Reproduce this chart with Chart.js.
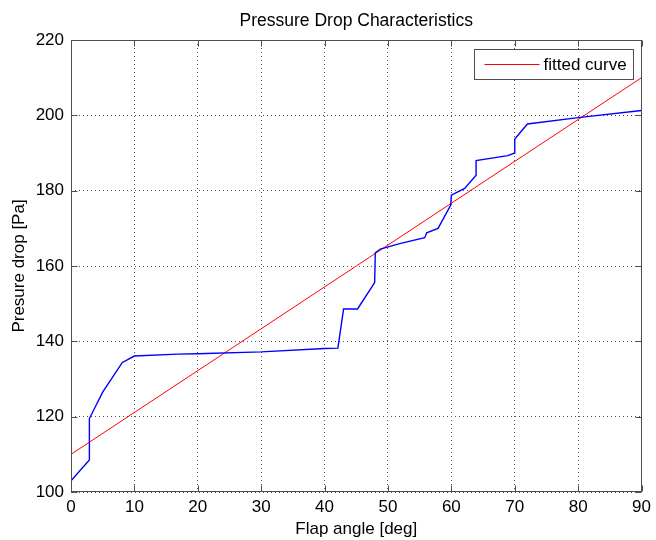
<!DOCTYPE html>
<html>
<head>
<meta charset="utf-8">
<script src="https://cdn.jsdelivr.net/npm/chart.js@4"></script>
<style>
  body { margin: 0; background: #fff; }
  #wrap { width: 656px; height: 540px; }
</style>
</head>
<body>
<div id="wrap"><canvas id="chart" width="656" height="540"></canvas></div>
<script>
// --- Data ---
const angleDeg = [0, 2.9, 2.9, 5, 8.1, 10, 16.8, 20, 30, 40, 42.1, 43, 45.2, 47.9, 48, 48.8, 52, 55.8, 56.1, 57.9, 59.9, 60, 62.1, 63.9, 63.9, 68.9, 70, 70, 72, 80, 90];
const pressurePa = [103, 108.5, 119.5, 126.5, 134.4, 136.1, 136.6, 136.7, 137.2, 138.1, 138.2, 148.6, 148.6, 155.6, 163.5, 164.5, 166, 167.5, 168.8, 170, 176.2, 178.8, 180.6, 184.1, 188, 189.3, 190, 193.7, 197.7, 199.4, 201.3];
const fitX = [0, 90];
const fitY = [110, 210];
const xTicks = [0, 10, 20, 30, 40, 50, 60, 70, 80, 90];
const yTicks = [100, 120, 140, 160, 180, 200, 220];

const FONT = "'Liberation Sans', Arial, sans-serif";
const AXIS_GREY = '#4d4d4d';

// box, inward ticks and the legend, matlab style
const frame = {
    id: 'frame',
    afterDraw(chart) {
        const { ctx, chartArea: a, scales: { x, y } } = chart;
        const L = Math.round(a.left) + 0.5, R = Math.round(a.right) - 0.5;
        const T = Math.round(a.top) + 0.5, B = Math.round(a.bottom) - 0.5;
        ctx.save();
        ctx.strokeStyle = AXIS_GREY;
        ctx.lineWidth = 1;
        ctx.strokeRect(L, T, R - L, B - T);
        ctx.beginPath();
        xTicks.forEach(v => {
            const px = Math.round(x.getPixelForValue(v)) + 0.5;
            ctx.moveTo(px, B); ctx.lineTo(px, B - 6);
            ctx.moveTo(px, T); ctx.lineTo(px, T + 6);
        });
        yTicks.forEach(v => {
            const py = Math.round(y.getPixelForValue(v)) + 0.5;
            ctx.moveTo(L, py); ctx.lineTo(L + 6, py);
            ctx.moveTo(R, py); ctx.lineTo(R - 6, py);
        });
        ctx.stroke();

        // legend
        const ds = chart.data.datasets[1];
        const bx = R - 167, by = T + 9, bw = 159, bh = 30;
        ctx.fillStyle = '#fff';
        ctx.fillRect(bx, by, bw, bh);
        ctx.strokeRect(bx, by, bw, bh);
        ctx.strokeStyle = ds.borderColor;
        ctx.beginPath();
        ctx.moveTo(bx + 10, by + bh / 2);
        ctx.lineTo(bx + 65, by + bh / 2);
        ctx.stroke();
        ctx.fillStyle = '#000';
        ctx.font = '17px ' + FONT;
        ctx.textBaseline = 'middle';
        ctx.fillText(ds.label, bx + 69, by + bh / 2 + 1);
        ctx.restore();
    }
};

new Chart(document.getElementById('chart'), {
    type: 'scatter',
    data: {
        datasets: [{
            label: 'measured',
            data: angleDeg.map((v, i) => ({ x: v, y: pressurePa[i] })),
            showLine: true,
            borderColor: '#0000ff',
            borderWidth: 1.4,
            pointRadius: 0,
            tension: 0
        }, {
            label: 'fitted curve',
            data: fitX.map((v, i) => ({ x: v, y: fitY[i] })),
            showLine: true,
            borderColor: '#ff0000',
            borderWidth: 1,
            pointRadius: 0
        }]
    },
    options: {
        responsive: false,
        animation: false,
        layout: { padding: { left: 0, right: 12, top: 0, bottom: 0 } },
        plugins: {
            legend: { display: false },
            tooltip: { enabled: false },
            title: {
                display: true,
                fullSize: false,
                text: 'Pressure Drop Characteristics',
                color: '#000',
                font: { family: FONT, size: 17.5, weight: 'normal', lineHeight: 1.2 },
                padding: { top: 11, bottom: 8 }
            }
        },
        scales: {
            x: {
                type: 'linear',
                min: 0, max: 90,
                afterFit: s => { s.height = 48; },
                afterBuildTicks: s => { s.ticks = xTicks.map(v => ({ value: v })); },
                ticks: { color: '#000', padding: 5, font: { family: FONT, size: 17 } },
                grid: { color: '#555', drawTicks: false },
                border: { display: false, dash: [1, 3] },
                title: {
                    display: true, text: 'Flap angle [deg]', color: '#000',
                    font: { family: FONT, size: 17, lineHeight: 1.2 }, padding: 0
                }
            },
            y: {
                min: 100, max: 220,
                afterFit: s => { s.width = 71; },
                afterBuildTicks: s => { s.ticks = yTicks.map(v => ({ value: v })); },
                ticks: { color: '#000', padding: 7, font: { family: FONT, size: 17 } },
                grid: { color: '#555', drawTicks: false },
                border: { display: false, dash: [1, 3] },
                title: {
                    display: true, text: 'Presure drop [Pa]', color: '#000',
                    font: { family: FONT, size: 17, lineHeight: 1.2 }, padding: { top: 9, bottom: 0 }
                }
            }
        }
    },
    plugins: [frame]
});
</script>
</body>
</html>
